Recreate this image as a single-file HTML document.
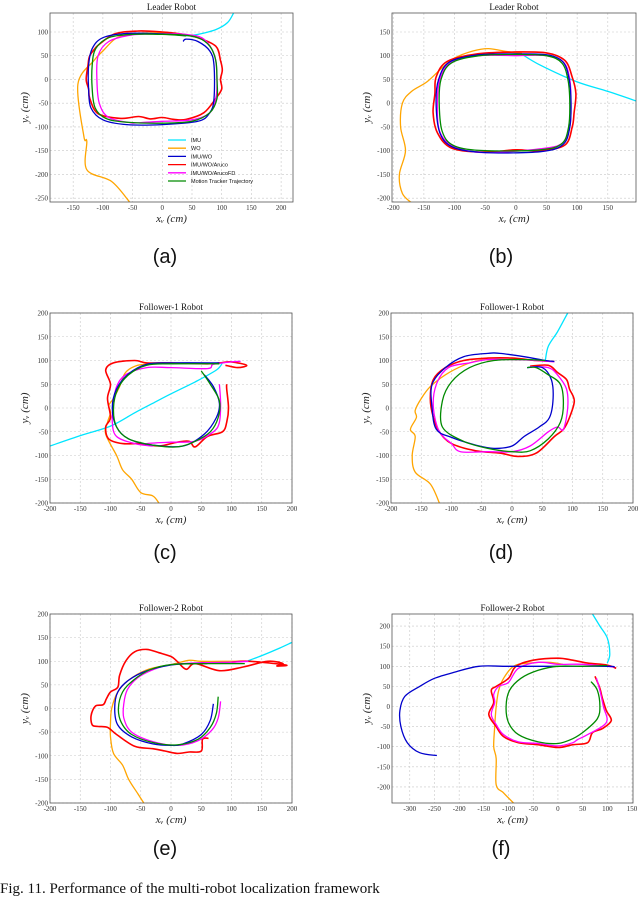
<!DOCTYPE html>
<html><head><meta charset="utf-8"><style>
html,body{margin:0;padding:0;background:#fff;width:640px;height:899px;overflow:hidden}
svg{display:block}
.tk{font-family:"Liberation Serif",serif;font-size:7px;fill:#333}
.ttl{font-family:"Liberation Serif",serif;font-size:9px;fill:#111}
.axl{font-family:"Liberation Serif",serif;font-style:italic;font-size:11px;fill:#222}
.cap{font-family:"Liberation Sans",sans-serif;font-size:20px;fill:#111}
.fig{font-family:"Liberation Serif",serif;font-size:15px;fill:#111}
.lg{font-family:"Liberation Sans",sans-serif;font-size:5.5px;fill:#111}
</style></head><body>
<svg id="fig" width="640" height="899" viewBox="0 0 640 899" xmlns="http://www.w3.org/2000/svg"></svg>
<script>
// ---- data (cm) ----
const aImu=[[40,92],[60,95],[90,105],[110,120],[120,140]];
const aWo=[[-55,-258],[-85,-215],[-127,-190],[-127,-130],[-132,-120],[-142,-10],[-115,40],[-100,60],[-80,85],[-60,95],[-30,98],[20,97],[50,92]];
const aImuWo=[[35,80],[40,85],[60,80],[80,60],[87,30],[87,-40],[80,-70],[60,-88],[0,-95],[-60,-95],[-100,-85],[-120,-60],[-124,-20],[-124,30],[-118,65],[-100,88],[-60,97],[0,96],[40,92]];
const aAruco=[[-110,70],[-122,50],[-125,30],[-128,0],[-124,-20],[-122,-40],[-108,-72],[-70,-82],[-40,-78],[-20,-83],[0,-80],[20,-84],[40,-84],[70,-70],[90,-40],[100,-20],[98,0],[101,20],[98,40],[90,70],[60,88],[30,96],[0,100],[-40,102],[-80,96],[-110,70]];
const aArucoFD=[[-50,-92],[0,-88],[50,-85],[80,-70],[90,-40],[92,0],[88,50],[70,85],[40,95],[0,96],[-50,94],[-90,80],[-108,50],[-110,0],[-106,-50],[-90,-80],[-50,-92]];
const aMotion=[[40,92],[0,95],[-50,95],[-90,88],[-112,65],[-118,30],[-118,-20],[-113,-60],[-95,-82],[-60,-90],[0,-92],[50,-88],[80,-70],[92,-40],[92,0],[90,40],[80,70],[60,88],[30,94],[0,95]];

const bImu=[[10,103],[40,80],[100,45],[150,25],[196,5]];
const bWo=[[-170,-210],[-185,-190],[-190,-150],[-180,-100],[-188,-50],[-185,0],[-170,25],[-145,45],[-120,75],[-100,95],[-70,110],[-45,115],[-20,110],[10,105]];
const bImuWo=[[0,104],[50,102],[77,87],[87,50],[90,0],[88,-50],[77,-87],[40,-102],[-50,-104],[-102,-93],[-124,-62],[-130,0],[-126,50],[-108,87],[-60,102],[0,104]];
const bAruco=[[0,108],[50,106],[80,90],[92,55],[98,20],[95,-20],[92,-50],[80,-88],[40,-100],[0,-98],[-50,-103],[-104,-95],[-128,-62],[-135,-20],[-132,20],[-130,55],[-112,88],[-62,104],[0,108]];
const bArucoFD=[[0,100],[50,100],[78,86],[88,50],[90,0],[88,-50],[76,-84],[40,-96],[-50,-104],[-100,-92],[-124,-60],[-128,0],[-124,50],[-106,86],[-60,100],[0,100]];
const bMotion=[[0,103],[50,100],[75,85],[85,50],[88,0],[86,-50],[75,-85],[40,-98],[-50,-100],[-100,-90],[-120,-60],[-125,0],[-122,50],[-105,85],[-60,100],[0,103]];

const cImu=[[-200,-80],[-150,-58],[-100,-38],[-60,-10],[-30,10],[0,30],[40,55],[75,80],[85,95]];
const cWo=[[-20,-200],[-30,-185],[-50,-178],[-65,-150],[-80,-130],[-90,-100],[-108,-55],[-105,-30],[-100,-10],[-103,5],[-95,20],[-85,45],[-75,75],[-55,90],[-30,93]];
const cImuWo=[[55,70],[70,45],[80,10],[75,-20],[55,-55],[20,-80],[-30,-78],[-70,-65],[-90,-40],[-97,0],[-90,40],[-70,72],[-40,92],[0,95],[80,95]];
const cAruco=[[92,50],[92,40],[95,0],[92,-30],[85,-50],[60,-60],[40,-82],[30,-70],[10,-72],[-20,-80],[-50,-75],[-80,-75],[-103,-65],[-108,-40],[-100,-20],[-105,20],[-100,50],[-108,80],[-95,95],[-60,100],[-40,95],[0,95],[60,93],[80,95],[100,97],[125,90],[110,85],[90,90]];
const cArucoFD=[[80,50],[82,10],[80,-30],[70,-50],[40,-70],[0,-72],[-40,-75],[-30,-80],[-60,-75],[-90,-60],[-97,-30],[-95,10],[-90,45],[-75,70],[-40,85],[0,85],[60,83],[70,92],[100,97],[115,98]];
const cMotion=[[50,78],[65,50],[80,15],[78,-20],[65,-50],[40,-70],[10,-82],[-30,-78],[-70,-65],[-90,-40],[-95,0],[-88,40],[-70,70],[-40,90],[0,93],[80,93]];

const dImu=[[55,100],[60,130],[75,160],[92,200]];
const dWo=[[-120,-200],[-135,-160],[-160,-135],[-165,-100],[-160,-60],[-168,-45],[-158,-20],[-160,-5],[-150,20],[-135,45],[-110,70],[-80,90],[-55,100],[-30,102]];
const dImuWo=[[25,85],[50,85],[65,60],[68,20],[62,-20],[45,-40],[20,-60],[0,-80],[-30,-85],[-60,-78],[-100,-62],[-125,-45],[-132,0],[-132,50],[-110,85],[-80,108],[-40,115],[-20,115],[20,108],[55,100],[70,98]];
const dAruco=[[30,88],[60,90],[75,75],[90,60],[95,40],[103,15],[95,-20],[85,-45],[70,-60],[40,-95],[10,-102],[-20,-95],[-60,-90],[-100,-75],[-120,-50],[-130,-20],[-135,20],[-130,60],[-110,85],[-80,100],[-40,105],[0,105],[40,100],[70,98]];
const dArucoFD=[[30,87],[60,85],[75,70],[90,40],[92,0],[85,-45],[75,-40],[60,-50],[30,-80],[0,-92],[-40,-92],[-85,-92],[-100,-75],[-120,-50],[-130,0],[-125,50],[-105,85],[-70,95],[-40,102],[0,102],[40,100],[70,97]];
const dMotion=[[25,85],[40,85],[60,70],[80,50],[85,10],[80,-30],[60,-65],[30,-90],[0,-92],[-40,-85],[-80,-70],[-115,-40],[-115,15],[-100,55],[-70,85],[-30,100],[20,102],[55,100]];

const eImu=[[125,100],[150,112],[180,128],[200,140]];
const eWo=[[-45,-200],[-55,-180],[-70,-150],[-80,-120],[-95,-95],[-100,-60],[-100,-30],[-98,0],[-88,35],[-70,60],[-40,82],[0,93],[30,102],[50,100],[100,100],[128,100]];
const eImuWo=[[70,10],[65,-25],[50,-55],[20,-75],[0,-78],[-30,-75],[-65,-60],[-88,-35],[-93,0],[-88,35],[-70,60],[-40,80],[0,92],[30,95],[60,95]];
const eAruco=[[62,-63],[52,-65],[50,-90],[30,-92],[10,-95],[-10,-90],[-30,-85],[-60,-80],[-90,-55],[-105,-40],[-120,-38],[-130,-35],[-132,-15],[-125,5],[-112,8],[-107,20],[-100,35],[-88,45],[-85,70],[-75,100],[-60,120],[-40,125],[-20,118],[0,110],[10,100],[25,83],[40,95],[80,80],[120,88],[160,100],[185,95],[175,90],[190,92],[130,100],[100,98]];
const eArucoFD=[[82,15],[78,-20],[68,-45],[45,-68],[10,-78],[-30,-70],[-65,-50],[-78,-20],[-78,10],[-72,40],[-55,65],[-30,82],[0,93],[50,97],[100,98],[128,100]];
const eMotion=[[78,25],[75,-10],[65,-40],[45,-65],[10,-77],[-30,-72],[-65,-55],[-82,-30],[-87,0],[-80,35],[-62,60],[-35,82],[0,93],[60,95],[122,95]];

const fImu=[[70,230],[85,200],[100,170],[105,130],[100,108]];
const fWo=[[-90,-240],[-110,-215],[-125,-195],[-125,-130],[-130,-100],[-128,-50],[-125,0],[-120,40],[-110,70],[-90,100],[-60,108],[-20,110],[10,105]];
const fImuWo=[[-245,-122],[-280,-115],[-305,-90],[-318,-50],[-320,-10],[-310,25],[-280,50],[-250,70],[-210,85],[-160,100],[-100,100],[0,100],[100,100],[115,98]];
const fAruco=[[75,75],[85,45],[90,20],[98,-10],[108,-35],[90,-55],[70,-65],[60,-90],[30,-95],[0,-102],[-40,-95],[-80,-90],[-110,-75],[-125,-50],[-140,-20],[-130,10],[-135,40],[-125,50],[-100,70],[-85,100],[-50,115],[0,120],[30,115],[60,108],[100,103],[118,95]];
const fArucoFD=[[78,70],[85,40],[92,0],[98,-40],[60,-70],[40,-82],[30,-90],[0,-98],[-40,-92],[-80,-88],[-110,-70],[-125,-45],[-135,-20],[-128,10],[-130,30],[-120,50],[-100,60],[-80,95],[-40,110],[0,105],[50,105],[100,100],[115,98]];
const fMotion=[[67,62],[80,40],[85,0],[80,-30],[55,-60],[30,-80],[0,-92],[-40,-88],[-80,-70],[-100,-40],[-105,0],[-98,40],[-75,70],[-40,90],[0,100],[50,100],[100,102]];

const ticksA_x=[-150,-100,-50,0,50,100,150,200], ticksA_y=[100,50,0,-50,-100,-150,-200,-250];
const ticksB_x=[-200,-150,-100,-50,0,50,100,150], ticksB_y=[150,100,50,0,-50,-100,-150,-200];
const ticksC=[-200,-150,-100,-50,0,50,100,150,200];
const ticksF_x=[-300,-250,-200,-150,-100,-50,0,50,100,150], ticksF_y=[200,150,100,50,0,-50,-100,-150,-200];
const legendLabels=["IMU","WO","IMU/WO","IMU/WO/Aruco","IMU/WO/ArucoFD","Motion Tracker Trajectory"];

const COLORS=["#00e5ff","#ffa500","#0000cc","#ff0000","#ff00ff","#008a00"];
const NS="http://www.w3.org/2000/svg";
const svg=document.getElementById('fig');
function mk(tag,attrs,parent){const e=document.createElementNS(NS,tag);for(const k in attrs)e.setAttribute(k,attrs[k]);(parent||svg).appendChild(e);return e;}
function smooth(pts){
 if(pts.length<3)return 'M'+pts.map(p=>p[0].toFixed(1)+','+p[1].toFixed(1)).join('L');
 let d='M'+pts[0][0].toFixed(1)+','+pts[0][1].toFixed(1);
 for(let i=0;i<pts.length-1;i++){
  const p0=pts[Math.max(0,i-1)],p1=pts[i],p2=pts[i+1],p3=pts[Math.min(pts.length-1,i+2)];
  const c1=[p1[0]+(p2[0]-p0[0])/6,p1[1]+(p2[1]-p0[1])/6];
  const c2=[p2[0]-(p3[0]-p1[0])/6,p2[1]-(p3[1]-p1[1])/6];
  d+='C'+c1[0].toFixed(1)+','+c1[1].toFixed(1)+' '+c2[0].toFixed(1)+','+c2[1].toFixed(1)+' '+p2[0].toFixed(1)+','+p2[1].toFixed(1);
 }
 return d;
}

const panels=[
 {id:'a',title:'Leader Robot',box:[50,13,293,202],xr:[-189,220],yr:[-258,140],xt:ticksA_x,yt:ticksA_y,s:[aImu,aWo,aImuWo,aAruco,aArucoFD,aMotion],cap:'(a)',cx:165,cy:263,legend:true},
 {id:'b',title:'Leader Robot',box:[392,13,636,202],xr:[-202,196],yr:[-208,190],xt:ticksB_x,yt:ticksB_y,s:[bImu,bWo,bImuWo,bAruco,bArucoFD,bMotion],cap:'(b)',cx:501,cy:263},
 {id:'c',title:'Follower-1 Robot',box:[50,313,292,503],xr:[-200,200],yr:[-200,200],xt:ticksC,yt:ticksC,s:[cImu,cWo,cImuWo,cAruco,cArucoFD,cMotion],cap:'(c)',cx:165,cy:559},
 {id:'d',title:'Follower-1 Robot',box:[391,313,633,503],xr:[-200,200],yr:[-200,200],xt:ticksC,yt:ticksC,s:[dImu,dWo,dImuWo,dAruco,dArucoFD,dMotion],cap:'(d)',cx:501,cy:559},
 {id:'e',title:'Follower-2 Robot',box:[50,614,292,803],xr:[-200,200],yr:[-200,200],xt:ticksC,yt:ticksC,s:[eImu,eWo,eImuWo,eAruco,eArucoFD,eMotion],cap:'(e)',cx:165,cy:855},
 {id:'f',title:'Follower-2 Robot',box:[392,614,633,803],xr:[-336,152],yr:[-240,230],xt:ticksF_x,yt:ticksF_y,s:[fImu,fWo,fImuWo,fAruco,fArucoFD,fMotion],cap:'(f)',cx:501,cy:855}
];
const drawOrder=[1,0,3,4,2,5];
panels.forEach(p=>{
 const [x0,y0,x1,y1]=p.box;
 const sx=v=>x0+(v-p.xr[0])/(p.xr[1]-p.xr[0])*(x1-x0);
 const sy=v=>y1-(v-p.yr[0])/(p.yr[1]-p.yr[0])*(y1-y0);
 const g=mk('g',{});
 
 
 const clipId='clip'+p.id;
 const cp=mk('clipPath',{id:clipId},g);mk('rect',{x:x0,y:y0,width:x1-x0,height:y1-y0},cp);
 const t=mk('text',{x:(x0+x1)/2,y:y0-3,'text-anchor':'middle',class:'ttl'},g);t.textContent=p.title;
 
 
 p.xt.forEach(v=>{const X=sx(v);
  mk('line',{x1:X,x2:X,y1:y0,y2:y1,stroke:'#c8c8c8','stroke-width':0.6,'stroke-dasharray':'2,2'},g);
  const tl=mk('text',{x:X,y:y1+8,'text-anchor':'middle',class:'tk'},g);tl.textContent=v;
  
  });
 p.yt.forEach(v=>{const Y=sy(v);
  mk('line',{x1:x0,x2:x1,y1:Y,y2:Y,stroke:'#c8c8c8','stroke-width':0.6,'stroke-dasharray':'2,2'},g);
  const tl=mk('text',{x:x0-2,y:Y+2.5,'text-anchor':'end',class:'tk'},g);tl.textContent=v;
  
  });
 const sg=mk('g',{'clip-path':'url(#'+clipId+')'},g);
 drawOrder.forEach(i=>{const d=p.s[i];
  const pts=d.map(q=>[sx(q[0]),sy(q[1])]);
  const pl=mk('path',{d:smooth(pts),fill:'none',stroke:COLORS[i],'stroke-width':i===3?1.6:1.3,'stroke-linejoin':'round'},sg);
  
  });
 mk('rect',{x:x0,y:y0,width:x1-x0,height:y1-y0,fill:'none',stroke:'#555','stroke-width':0.8},g);
 const xl=mk('text',{x:(x0+x1)/2,y:y1+20,'text-anchor':'middle',class:'axl'},g);xl.textContent='x\u1D65 (cm)';
 
 
 const yl=mk('text',{x:0,y:0,'text-anchor':'middle',class:'axl',transform:'translate('+(x0-22)+','+((y0+y1)/2)+') rotate(-90)'},g);yl.textContent='y\u1D65 (cm)';
 
 
 const c=mk('text',{x:p.cx,y:p.cy,'text-anchor':'middle',class:'cap'},g);c.textContent=p.cap;
 
 
 if(p.legend){
  const lg=mk('g',{},g);
  
  
  legendLabels.forEach((lab,i)=>{const Y=140+i*8.2;
   mk('line',{x1:168,x2:186,y1:Y,y2:Y,stroke:COLORS[i],'stroke-width':1.3},lg);
   const lt=mk('text',{x:191,y:Y+2,class:'lg'},lg);lt.textContent=lab;
   
   });
 }
});
const fc=mk('text',{x:0,y:893,class:'fig'});fc.textContent='Fig. 11.  Performance of the multi-robot localization framework';


</script>
</body></html>
